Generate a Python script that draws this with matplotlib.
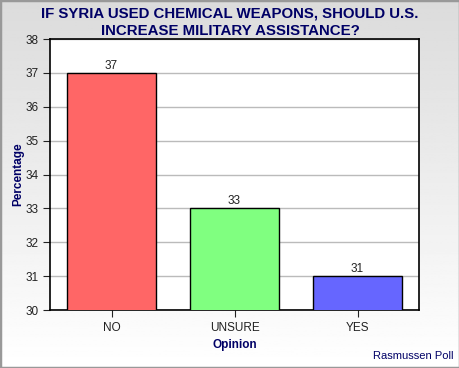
import numpy as np
import matplotlib.pyplot as plt
from matplotlib.patches import Rectangle

plt.rcParams['font.family'] = ['Liberation Sans', 'DejaVu Sans']

# 数据
opinions = ['NO', 'UNSURE', 'YES']
percent = [37, 33, 31]
bar_colors = ['#ff6666', '#80ff80', '#6666ff']
navy = '#000066'

fig = plt.figure(figsize=(4.6, 3.68), dpi=100)

# 背景渐变
bg = fig.add_axes([0, 0, 1, 1], zorder=-10)
grad = np.linspace(0.86, 1.0, 256).reshape(-1, 1)
bg.imshow(grad, aspect='auto', cmap='gray', vmin=0, vmax=1, extent=[0, 1, 0, 1])
bg.set_axis_off()
fig.patches.append(Rectangle((0, 0), 1, 1, transform=fig.transFigure,
                             fill=False, edgecolor='#999999', linewidth=2.5))

ax = fig.add_axes([0.1087, 0.1576, 0.8022, 0.7364])
ax.set_facecolor('white')
x = np.arange(len(opinions))
bars = ax.bar(x, percent, width=0.73, color=bar_colors, edgecolor='black', linewidth=1, zorder=3)
for b, v in zip(bars, percent):
    ax.text(b.get_x() + b.get_width() / 2, v + 0.03, str(v), ha='center', va='bottom',
            fontsize=8.5, color='#222222')

ax.set_ylim(30, 38)
ax.set_xlim(-0.5, 2.5)
ax.set_yticks(range(30, 39))
ax.yaxis.grid(True, color='#bbbbbb', linewidth=1, zorder=0)
ax.set_xticks(x)
ax.set_xticklabels(opinions)
ax.tick_params(axis='both', labelsize=8.5, colors='#222222', length=5)
for s in ax.spines.values():
    s.set_linewidth(1.2)

ax.set_xlabel('Opinion', fontsize=8.5, fontweight='bold', color=navy, labelpad=4)
ax.set_ylabel('Percentage', fontsize=8.5, fontweight='bold', color=navy)
ax.yaxis.set_label_coords(-0.07, 0.5)

fig.text(0.5, 1 - 13 / 368, 'IF SYRIA USED CHEMICAL WEAPONS, SHOULD U.S.',
         ha='center', va='center', fontsize=10.8, fontweight='bold', color=navy)
fig.text(0.5, 1 - 31 / 368, 'INCREASE MILITARY ASSISTANCE?',
         ha='center', va='center', fontsize=10.8, fontweight='bold', color=navy)
fig.text(0.985, 0.02, 'Rasmussen Poll', ha='right', va='bottom', fontsize=8, color=navy)

fig.savefig('out.png', dpi=100)
